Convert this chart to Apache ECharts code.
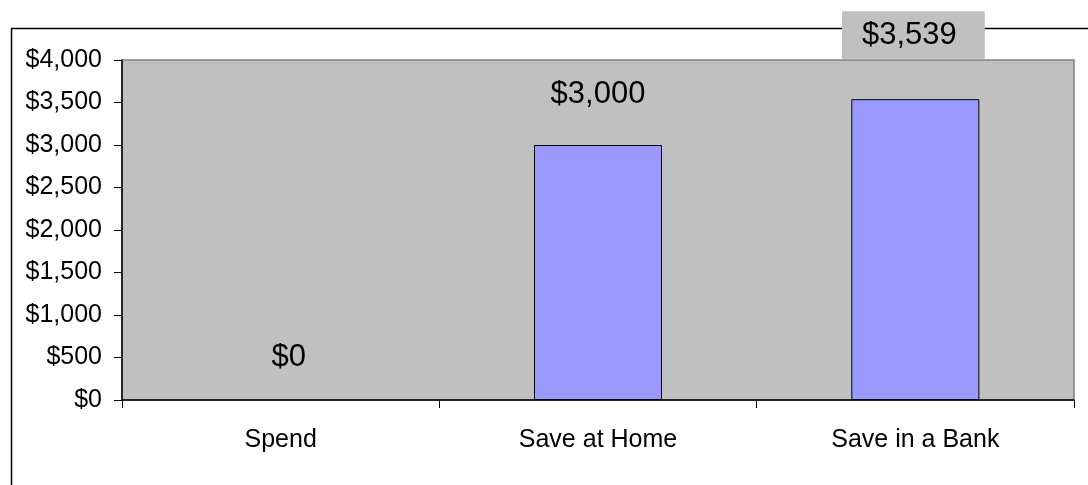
<!DOCTYPE html>
<html>
<head>
<meta charset="utf-8">
<script src="https://cdn.jsdelivr.net/npm/echarts@6/dist/echarts.min.js"></script>
<style>
  html, body { margin: 0; padding: 0; background: #fff; }
  #chart { width: 1088px; height: 485px; }
</style>
</head>
<body>
<div id="chart"></div>
<script>
// Savings outcome by choice
const categories = ['Spend', 'Save at Home', 'Save in a Bank'];
const amounts = [0, 3000, 3539];
const yTicks = { min: 0, max: 4000, step: 500 };

const FONT = '"Liberation Sans", Arial, sans-serif';
const money = v => '$' + Number(v).toLocaleString('en-US');

// per-bar label placement: gap above the bar, sideways nudge and optional backdrop
const labelDistance = [26, 34, 40];
const labelNudge = [8, 0, -2];
const labelBackdrop = [null, null, '#C0C0C0'];

const chart = echarts.init(document.getElementById('chart'), null, { renderer: 'canvas' });

chart.setOption({
  animation: false,
  backgroundColor: '#ffffff',
  graphic: [{
    type: 'rect',
    z: 0,
    shape: { x: 11.5, y: 28.5, width: 1200, height: 600 },
    style: { fill: null, stroke: '#000', lineWidth: 1.5 }
  }],
  grid: {
    left: 122, top: 60, right: 14, bottom: 85,
    show: true,
    backgroundColor: '#C0C0C0',
    borderColor: '#808080',
    borderWidth: 1.5,
    containLabel: false
  },
  xAxis: {
    type: 'category',
    data: categories,
    boundaryGap: true,
    axisLine: { lineStyle: { color: '#000', width: 1.5 } },
    axisTick: { show: true, length: 8, inside: false, lineStyle: { color: '#000' } },
    axisLabel: { color: '#000', fontFamily: FONT, fontSize: 25, margin: 28 },
    splitLine: { show: false }
  },
  yAxis: {
    type: 'value',
    min: yTicks.min,
    max: yTicks.max,
    interval: yTicks.step,
    axisLine: { show: true, lineStyle: { color: '#000', width: 1.5 } },
    axisTick: { show: true, length: 8, inside: false, lineStyle: { color: '#000' } },
    axisLabel: { color: '#000', fontFamily: FONT, fontSize: 25, margin: 20, formatter: money },
    splitLine: { show: false }
  },
  series: [{
    type: 'bar',
    barWidth: 128,
    z: 3,
    itemStyle: { color: '#9999FF', borderColor: '#000', borderWidth: 1 },
    data: amounts.map((v, i) => ({
      value: v,
      itemStyle: v === 0 ? { borderWidth: 0 } : undefined,
      label: {
        show: true,
        position: 'top',
        distance: labelDistance[i],
        offset: [labelNudge[i], 0],
        formatter: p => money(p.value),
        color: '#000',
        fontFamily: FONT,
        fontSize: 31,
        lineHeight: 34,
        backgroundColor: labelBackdrop[i] || 'transparent',
        padding: labelBackdrop[i] ? [7, 28, 7, 20] : 0
      }
    }))
  }]
});
</script>
</body>
</html>
